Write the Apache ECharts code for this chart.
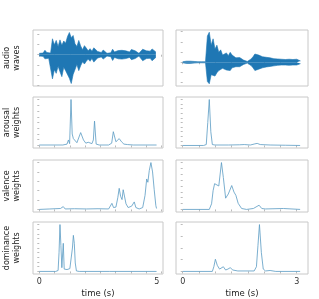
<!DOCTYPE html>
<html><head><meta charset="utf-8">
<script src="https://cdn.jsdelivr.net/npm/echarts@6/dist/echarts.min.js"></script>
<style>html,body{margin:0;padding:0;background:#fff}#c{width:319px;height:299px}</style>
</head><body><div id="c"></div>
<script>
// ---- data ----
const rowLabels = ['audio\nwaves', 'arousal\nweights', 'valence\nweights', 'dominance\nweights'];
const xTitle = 'time (s)';
const leftTickLabels = [0, 5];
const rightTickLabels = [0, 3];
const leftTicks = [0, 0.65, 1.3, 1.95, 2.6, 3.25, 3.9, 4.55, 5.2];
const rightTicks = [0, 0.4286, 0.8571, 1.2857, 1.7143, 2.1429, 2.5714, 3.0];

// audio envelopes (sample step in seconds)
const audioL_dt = 0.08;
const audioL_up = [0.05,0.10,0.06,0.16,0.08,0.14,0.06,0.58,0.36,0.52,0.30,0.54,0.34,0.50,0.42,0.66,0.81,0.62,0.70,0.40,0.30,0.52,0.32,0.18,0.33,0.24,0.14,0.22,0.13,0.25,0.28,0.12,0.15,0.08,0.17,0.10,0.05,0.12,0.07,0.20,0.10,0.06,0.15,0.09,0.16,0.10,0.14,0.17,0.10,0.19,0.13,0.14,0.08,0.05,0.04,0.20,0.24,0.14,0.21,0.13,0.21,0.15,0.10];
const audioL_lo = [-0.05,-0.09,-0.06,-0.15,-0.08,-0.13,-0.06,-0.88,-0.55,-0.68,-0.42,-0.62,-0.80,-0.46,-0.58,-0.52,-0.86,-1.05,-0.72,-0.66,-0.36,-0.58,-0.40,-0.26,-0.34,-0.24,-0.16,-0.24,-0.14,-0.27,-0.30,-0.12,-0.15,-0.08,-0.16,-0.10,-0.05,-0.12,-0.07,-0.21,-0.10,-0.06,-0.15,-0.09,-0.16,-0.10,-0.14,-0.17,-0.10,-0.18,-0.13,-0.14,-0.08,-0.05,-0.04,-0.22,-0.25,-0.14,-0.21,-0.13,-0.22,-0.15,-0.10];
const audioR_dt = 0.05;
const audioR_up = [0.02,0.03,0.04,0.03,0.04,0.03,0.03,0.02,0.02,0.02,0.02,0.02,0.02,0.95,1.09,0.62,0.85,0.48,0.62,0.36,0.45,0.26,0.22,0.34,0.24,0.36,0.26,0.22,0.16,0.21,0.17,0.15,0.08,0.06,0.03,0.05,0.12,0.20,0.30,0.33,0.26,0.28,0.20,0.24,0.18,0.21,0.16,0.19,0.13,0.15,0.12,0.14,0.11,0.14,0.10,0.13,0.11,0.14,0.10,0.13,0.11,0.09,0.05];
const audioR_lo = [-0.02,-0.03,-0.04,-0.03,-0.04,-0.03,-0.03,-0.02,-0.02,-0.02,-0.02,-0.02,-0.02,-0.70,-0.78,-0.45,-0.42,-0.50,-0.38,-0.30,-0.34,-0.22,-0.26,-0.28,-0.22,-0.30,-0.20,-0.21,-0.16,-0.19,-0.16,-0.14,-0.08,-0.06,-0.03,-0.05,-0.12,-0.20,-0.30,-0.32,-0.25,-0.27,-0.20,-0.23,-0.17,-0.20,-0.15,-0.18,-0.13,-0.14,-0.11,-0.13,-0.10,-0.13,-0.10,-0.12,-0.11,-0.13,-0.10,-0.12,-0.10,-0.09,-0.05];

// attention weights
const arousalL_t = [0,1.0,1.18,1.24,1.29,1.35,1.40,1.45,1.52,1.60,1.67,1.76,1.88,1.98,2.08,2.16,2.24,2.30,2.35,2.42,2.55,2.95,3.08,3.15,3.26,3.33,3.40,3.50,3.60,3.75,4.0,4.5,4.99];
const arousalL_v = [0.01,0.01,0.03,0.12,0.04,1.0,0.25,0.15,0.12,0.06,0.03,0.28,0.12,0.05,0.07,0.10,0.04,0.12,0.53,0.03,0.01,0.01,0.05,0.30,0.08,0.12,0.15,0.08,0.03,0.02,0.01,0.01,0.01];
const arousalR_t = [0,0.55,0.62,0.66,0.70,0.74,0.78,0.85,1.2,1.5,1.62,1.78,1.9,1.96,2.04,2.3,2.7,3.09];
const arousalR_v = [0,0,0.02,0.5,1.0,0.3,0.02,0.01,0.01,0.015,0.02,0.01,0.035,0.045,0.02,0.01,0.005,0];
const valenceL_t = [0,0.45,0.9,1.02,1.1,1.5,2.0,2.5,2.95,3.03,3.09,3.16,3.26,3.34,3.40,3.46,3.52,3.57,3.63,3.69,3.78,3.93,4.04,4.11,4.25,4.40,4.50,4.57,4.62,4.68,4.75,4.82,4.89,4.96,4.99];
const valenceL_v = [0,0.01,0.02,0.06,0.01,0.015,0.01,0.015,0.01,0.04,0.13,0.04,0.05,0.25,0.45,0.28,0.21,0.42,0.38,0.12,0.04,0.07,0.16,0.04,0.01,0.04,0.3,0.65,0.58,0.83,1.0,0.80,0.42,0.08,0.02];
const valenceR_t = [0,0.70,0.76,0.80,0.84,0.89,0.95,1.02,1.07,1.13,1.20,1.29,1.35,1.40,1.46,1.55,1.68,1.86,2.01,2.08,2.17,2.65,3.09];
const valenceR_v = [0,0,0.12,0.40,0.55,0.58,0.50,1.0,0.68,0.24,0.33,0.51,0.37,0.30,0.13,0.02,0,0.02,0.09,0.02,0.01,0.02,0];
const dominanceL_t = [0,0.70,0.80,0.84,0.88,0.92,0.96,0.99,1.02,1.06,1.12,1.18,1.23,1.30,1.36,1.41,1.45,1.49,1.53,1.58,1.70,3.0,4.99];
const dominanceL_v = [0,0,0.02,0.4,1.0,0.55,0.08,0.35,0.6,0.05,0.03,0.04,0.08,0.06,0.08,0.5,0.77,0.6,0.18,0.01,0,0,0];
const dominanceR_t = [0,0.78,0.82,0.86,0.91,0.97,1.02,1.07,1.13,1.19,1.25,1.32,1.45,1.88,1.94,1.98,2.02,2.07,2.12,2.18,2.30,2.45,3.09];
const dominanceR_v = [0,0,0.10,0.26,0.13,0.05,0.08,0.10,0.03,0.05,0.08,0.03,0.01,0.01,0.10,0.55,1.0,0.4,0.05,0.01,0.02,0,0];

// ---- build ----
const rows = [{top:30,h:56},{top:97,h:51},{top:160,h:52},{top:222,h:52}];
const cols = [{left:33,right:156},{left:176,right:11}];
const xRange = [[-0.268,5.264],[-0.176,3.297]];
const yRanges = [
  [[-1.14,0.90],[-0.86,1.17]],
  [[-0.055,1.055],[-0.055,1.055]],
  [[-0.055,1.055],[-0.055,1.055]],
  [[-0.055,1.055],[-0.055,1.055]]
];
const yTicks = [
  [[-1.11,-0.74,-0.37,0,0.37,0.74],[-0.74,-0.37,0,0.37,0.74,1.11]],
  [[0,0.125,0.25,0.375,0.5,0.625,0.75,0.875,1.0],[0,0.1,0.2,0.3,0.4,0.5,0.6,0.7,0.8,0.9,1.0]],
  [[0,0.2,0.4,0.6,0.8,1.0],[0,0.125,0.25,0.375,0.5,0.625,0.75,0.875,1.0]],
  [[0,0.1,0.2,0.3,0.4,0.5,0.6,0.7,0.8,0.9,1.0],[0,0.25,0.5,0.75,1.0]]
];
const pair = (t, v) => t.map((x, i) => [x, v[i]]);
const stepPair = (dt, v) => v.map((y, i) => [+(i*dt).toFixed(3), y]);
const weightData = [
  null,
  [pair(arousalL_t, arousalL_v), pair(arousalR_t, arousalR_v)],
  [pair(valenceL_t, valenceL_v), pair(valenceR_t, valenceR_v)],
  [pair(dominanceL_t, dominanceL_v), pair(dominanceR_t, dominanceR_v)]
];
const grid = [], xAxis = [], yAxis = [], series = [];
const FONT = 'DejaVu Sans';
const frame = '#c8c8c8';
let gi = 0;
for (let r = 0; r < 4; r++) {
  for (let c = 0; c < 2; c++) {
    grid.push({left: cols[c].left, right: cols[c].right, top: rows[r].top, height: rows[r].h,
      show: true, borderColor: frame, borderWidth: 1, backgroundColor: 'transparent'});
    const last = r === 3;
    xAxis.push({type: 'value', gridIndex: gi, min: xRange[c][0], max: xRange[c][1],
      axisLine: {show: false}, splitLine: {show: false},
      axisTick: {show: true, length: 2, lineStyle: {color: '#bbb', width: 1}, customValues: c === 0 ? leftTicks : rightTicks},
      axisLabel: {show: last, customValues: c === 0 ? leftTickLabels : rightTickLabels, fontSize: 8, color: '#333', fontFamily: FONT, margin: 4},
      name: last ? xTitle : '', nameLocation: 'middle', nameGap: 15,
      nameTextStyle: {fontSize: 8.5, color: '#222', fontFamily: FONT}});
    yAxis.push({type: 'value', gridIndex: gi, min: yRanges[r][c][0], max: yRanges[r][c][1],
      axisLine: {show: false}, splitLine: {show: false},
      axisTick: {show: true, length: 2, lineStyle: {color: '#bbb', width: 1}, customValues: yTicks[r][c]},
      axisLabel: {show: false},
      name: c === 0 ? rowLabels[r] : '', nameLocation: 'middle', nameRotate: 90, nameGap: 11,
      nameTextStyle: {fontSize: 8, color: '#222', fontFamily: FONT, lineHeight: 10}});
    if (r === 0) {
      const dt = c === 0 ? audioL_dt : audioR_dt;
      const up = c === 0 ? audioL_up : audioR_up;
      const lo = c === 0 ? audioL_lo : audioR_lo;
      [up, lo].forEach(arr => series.push({type: 'line', xAxisIndex: gi, yAxisIndex: gi,
        data: stepPair(dt, arr), showSymbol: false, silent: true,
        lineStyle: {color: '#1f77b4', width: 0.6},
        areaStyle: {color: '#1f77b4', opacity: 1, origin: 0}}));
    } else {
      series.push({type: 'line', xAxisIndex: gi, yAxisIndex: gi, data: weightData[r][c],
        showSymbol: false, silent: true,
        lineStyle: {color: '#5b9cc4', width: 0.9, opacity: 0.9}});
    }
    gi++;
  }
}
const chart = echarts.init(document.getElementById('c'), null, {renderer: 'canvas'});
chart.setOption({animation: false, backgroundColor: '#fff', grid, xAxis, yAxis, series});
</script></body></html>
